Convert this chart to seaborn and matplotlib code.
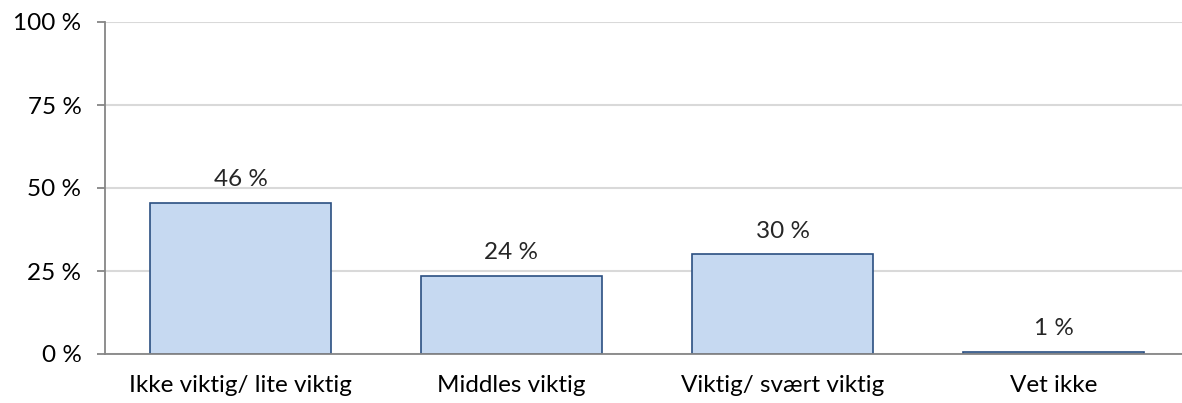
import pandas as pd
import seaborn as sns
import matplotlib.pyplot as plt
from matplotlib.ticker import FuncFormatter

# Chart data
categories = ['Ikke viktig/ lite viktig', 'Middles viktig', 'Viktig/ svært viktig', 'Vet ikke']
shares = [45.5, 23.5, 30.0, 0.7]
share_labels = ['46 %', '24 %', '30 %', '1 %']
y_ticks = [0, 25, 50, 75, 100]

df = pd.DataFrame({'kategori': categories, 'andel': shares})

sns.set_style('white')
plt.rcParams['font.family'] = ['Lato', 'DejaVu Sans']

fig = plt.figure(figsize=(11.82, 4.03), dpi=100)
# plot area in pixel terms: x 105..1189, y 22..354
ax = fig.add_axes([105 / 1182, 49 / 403, 1084 / 1182, 332 / 403])

sns.barplot(data=df, x='kategori', y='andel', order=categories, color='#C6D9F1',
            edgecolor='#2B4F81', linewidth=1.2, width=0.67, saturation=1, ax=ax)

ax.set_xlim(-0.5, 3.5)
ax.set_ylim(0, 100)
ax.set_yticks(y_ticks)
ax.yaxis.set_major_formatter(FuncFormatter(lambda v, p: f'{v:.0f} %'))
ax.grid(axis='y', color='#D9D9D9', linewidth=1.5)
ax.set_axisbelow(True)

for s in ['top', 'right']:
    ax.spines[s].set_visible(False)
for s in ['left', 'bottom']:
    ax.spines[s].set_color('#868686')
    ax.spines[s].set_linewidth(1.3)

# category boundaries as minor ticks
ax.set_xticks([-0.5, 0.5, 1.5, 2.5, 3.5], minor=True)
ax.tick_params(axis='x', which='major', length=0, pad=15, labelsize=17.5, colors='black')
ax.tick_params(axis='x', which='minor', length=6, width=1.3, color='#868686', direction='out')
ax.tick_params(axis='y', length=6, width=1.3, color='#868686', direction='out',
               labelsize=17.5, labelcolor='black', pad=11, left=True)

ax.set_xlabel('')
ax.set_ylabel('')

ax.bar_label(ax.containers[0], labels=share_labels, padding=9, fontsize=17.5)

fig.savefig('out.png', dpi=100)
